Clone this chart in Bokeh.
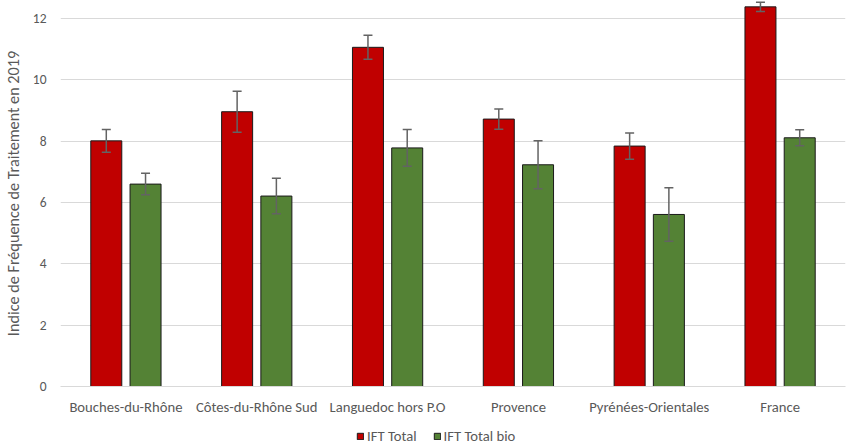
from bokeh.plotting import figure
from bokeh.layouts import column
from bokeh.models import ColumnDataSource, Whisker, FixedTicker, Legend, LegendItem, Range1d
from bokeh.embed import file_html
from bokeh.resources import INLINE

categories = ["Bouches-du-Rhône", "Côtes-du-Rhône Sud", "Languedoc hors P.O",
              "Provence", "Pyrénées-Orientales", "France"]
ift_total = [8.01, 8.96, 11.06, 8.72, 7.84, 12.38]
ift_total_err = [0.37, 0.67, 0.39, 0.33, 0.43, 0.15]
ift_bio = [6.60, 6.21, 7.78, 7.23, 5.61, 8.11]
ift_bio_err = [0.35, 0.58, 0.60, 0.78, 0.87, 0.26]
y_ticks = [0, 2, 4, 6, 8, 10, 12]
series_names = ["IFT Total", "IFT Total bio"]
series_colors = ["#C00000", "#548235"]

FONT = "Carlito"
FS = "14.67px"
TXT = "#595959"

n = len(categories)
xr = [i + 0.35 for i in range(n)]
xg = [i + 0.65 for i in range(n)]

src_r = ColumnDataSource(dict(x=xr, top=ift_total,
                              up=[v + e for v, e in zip(ift_total, ift_total_err)],
                              lo=[v - e for v, e in zip(ift_total, ift_total_err)]))
src_g = ColumnDataSource(dict(x=xg, top=ift_bio,
                              up=[v + e for v, e in zip(ift_bio, ift_bio_err)],
                              lo=[v - e for v, e in zip(ift_bio, ift_bio_err)]))

p = figure(width=853, height=427, output_backend="svg", toolbar_location=None,
           x_range=Range1d(0, n), y_range=Range1d(0, 12.587),
           min_border_left=59, min_border_right=8, min_border_top=0, min_border_bottom=41)
p.outline_line_color = None
p.background_fill_color = "white"

p.vbar(x="x", top="top", width=0.237, bottom=0, source=src_r,
       fill_color=series_colors[0], line_color="#1a1a1a", line_width=1)
p.vbar(x="x", top="top", width=0.237, bottom=0, source=src_g,
       fill_color=series_colors[1], line_color="#1a1a1a", line_width=1)

for s in (src_r, src_g):
    w = Whisker(source=s, base="x", upper="up", lower="lo",
                line_color="#636363", line_width=1.5, level="overlay")
    w.upper_head.size = 9
    w.lower_head.size = 9
    w.upper_head.line_color = "#636363"
    w.lower_head.line_color = "#636363"
    w.upper_head.line_width = 1.5
    w.lower_head.line_width = 1.5
    p.add_layout(w)

# axes
p.xaxis.ticker = FixedTicker(ticks=[i + 0.5 for i in range(n)])
p.xaxis.major_label_overrides = {i + 0.5: c for i, c in enumerate(categories)}
p.xaxis.axis_line_color = "#d9d9d9"
p.xaxis.major_tick_line_color = None
p.xaxis.minor_tick_line_color = None
p.xaxis.major_tick_out = 0
p.xaxis.major_label_standoff = 11
p.xaxis.major_label_text_font = FONT
p.xaxis.major_label_text_font_size = FS
p.xaxis.major_label_text_color = TXT

p.yaxis.ticker = FixedTicker(ticks=y_ticks)
p.yaxis.axis_line_color = None
p.yaxis.major_tick_line_color = None
p.yaxis.minor_tick_line_color = None
p.yaxis.major_tick_out = 0
p.yaxis.major_label_standoff = 14
p.yaxis.major_label_text_font = FONT
p.yaxis.major_label_text_font_size = "13.5px"
p.yaxis.major_label_text_color = TXT
p.yaxis.axis_label = "Indice de Fréquence de Traitement en 2019"
p.yaxis.axis_label_text_font = FONT
p.yaxis.axis_label_text_font_size = "16.2px"
p.yaxis.axis_label_text_font_style = "normal"
p.yaxis.axis_label_text_color = TXT
p.yaxis.axis_label_standoff = 7

p.xgrid.grid_line_color = None
p.ygrid.grid_line_color = "#d9d9d9"
p.ygrid.grid_line_width = 1

# legend strip below the chart
lg = figure(width=853, height=18, output_backend="svg", toolbar_location=None,
            x_range=Range1d(0, 1), y_range=Range1d(0, 1),
            min_border_left=0, min_border_right=0, min_border_top=0, min_border_bottom=0)
lg.axis.visible = False
lg.grid.visible = False
lg.outline_line_color = None
items = []
for name, col in zip(series_names, series_colors):
    rr = lg.rect(x=[-10], y=[-10], width=0.1, height=0.1, fill_color=col,
                 line_color="#1a1a1a", line_width=1)
    items.append(LegendItem(label=name, renderers=[rr]))
legend = Legend(items=items, orientation="horizontal", location=(296, 0),
                glyph_width=8, glyph_height=8, label_text_font=FONT,
                label_text_font_size=FS, label_text_color=TXT,
                label_standoff=3, spacing=16, padding=0, margin=0,
                border_line_color=None, background_fill_alpha=0)
lg.add_layout(legend, "center")

layout = column(p, lg, spacing=0)
open("out.html", "w").write(file_html(layout, INLINE))
